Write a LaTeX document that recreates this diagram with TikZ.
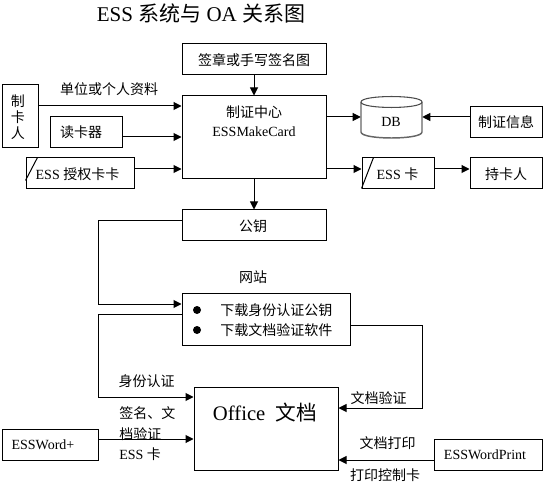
\documentclass[tikz,border=0pt]{standalone}
\usepackage{fontspec}
\setmainfont{Liberation Serif}
\newfontfamily\cjk{Noto Sans CJK SC}
\newcommand{\zh}[1]{{\cjk #1}}
\usetikzlibrary{arrows.meta, calc}
\tikzset{
  box/.style={draw, line width=0.75pt, minimum width=#1*0.75pt, minimum height=23.25pt, inner sep=0pt},
  lbl/.style={font=\fontsize{10.5}{12}\selectfont, inner sep=0pt},
  conn/.style={line width=0.75pt, -{Triangle[length=6pt,width=6pt]}}
}

\begin{document}
\begin{tikzpicture}[x=0.75pt, y=-0.75pt, font=\fontsize{10.5}{12}\selectfont]
  \useasboundingbox (0,0) rectangle (545,484);

  % Titulo
  \node[inner sep=0pt, font=\fontsize{15.75}{18}\selectfont] (title) at (201,13) {ESS \zh{系统与} OA \zh{关系图}};

  % Fila superior
  \node[box=144] (sign) at (254,59.5) {};
  \node[lbl] (signtxt) at (254,60) {\zh{签章或手写签名图}};
  \node[box=144, minimum height=62.25pt] (center) at (254,137.5) {};
  \node[lbl] (centertxt) at (254,112) {\zh{制证中心}};
  \node[lbl] (centereng) at (254,132) {ESSMakeCard};

  % Entradas
  \node[box=36, minimum height=47.25pt] (maker) at (20,116.5) {};
  \node[lbl, align=center, font=\fontsize{10.5}{12}\selectfont] (makertxt) at (18,117) {\zh{制}\\\zh{卡}\\\zh{人}};
  \node[box=72] (reader) at (86,132.5) {};
  \node[lbl] (readertxt) at (81,132) {\zh{读卡器}};
  \node[box=108] (authcard) at (80,173.5) {};
  \node[lbl] (authtxt) at (77.5,174) {ESS \zh{授权卡卡}};
  \node[lbl] (datatxt) at (109,89) {\zh{单位或个人资料}};

  % Salidas
  \node[minimum width=45.75pt, minimum height=31.5pt, inner sep=0pt] (db) at (391.5,117) {};
  \draw[line width=1.1pt, black!60] (361,102) -- (361,132) .. controls (361,140) and (422,140) .. (422,132) -- (422,102);
  \draw[line width=0.8pt, black!70] (361,102) .. controls (361,94.7) and (422,94.7) .. (422,102)
    .. controls (422,109.3) and (361,109.3) .. (361,102);
  \node[lbl] (dbtxt) at (391,122) {DB};
  \node[box=72] (info) at (506,122) {};
  \node[lbl] (infotxt) at (506,122) {\zh{制证信息}};
  \node[box=72] (card) at (398,173.5) {};
  \node[lbl] (cardtxt) at (397.5,174) {ESS \zh{卡}};
  \node[box=72] (holder) at (506,173.5) {};
  \node[lbl] (holdertxt) at (506,174) {\zh{持卡人}};

  % Marcas de tarjeta
  \draw[line width=0.75pt] ($(authcard.south west)+(0,-9)$) -- ($(authcard.north west)+(12,0)$);
  \draw[line width=0.75pt] ($(card.south west)+(0,-1)$) -- ($(card.north west)+(12,0)$);

  % Clave y sitio
  \node[box=144] (pubkey) at (254,225.5) {};
  \node[lbl] (pubkeytxt) at (253,226) {\zh{公钥}};
  \node[lbl] (sitetxt) at (253,277) {\zh{网站}};
  \node[box=168, minimum height=39pt] (site) at (266,319) {};
  \foreach \y/\lbl in {310/\zh{下载身份认证公钥}, 330/\zh{下载文档验证软件}} {
    \fill (197,\y) circle (3pt);
    \node[lbl, anchor=west] at (220,\y) {\lbl};
  }

  % Fila inferior
  \node[box=144, minimum height=62.25pt] (office) at (266,428.5) {};
  \node[inner sep=0pt, font=\fontsize{15.5}{18}\selectfont] (officetxt) at (265,413) {Office\ \ \zh{文档}};
  \node[box=96] (word) at (50,444.5) {};
  \node[lbl] (wordtxt) at (43,445) {ESSWord+};
  \node[box=108] (print) at (488,454.5) {};
  \node[lbl] (printtxt) at (485,455) {ESSWordPrint};

  % Etiquetas
  \node[lbl] (idtxt) at (146.5,381) {\zh{身份认证}};
  \node[lbl, anchor=west] (signdoc) at (119,413) {\zh{签名、文}};
  \node[lbl, anchor=west] (signdocb) at (119,434) {\zh{档验证}};
  \node[lbl, anchor=west] (wordcard) at (119,454) {ESS \zh{卡}};
  \node[lbl] (verifytxt) at (378.5,398) {\zh{文档验证}};
  \node[lbl] (printdoc) at (387.5,443) {\zh{文档打印}};
  \node[lbl] (printcard) at (385,475) {\zh{打印控制卡}};

  % Flechas
  \draw[conn] (sign) -- (center);
  \draw[conn] (maker.east |- 0,106) -- (center.west |- 0,106);
  \draw[conn] (reader.east |- 0,137) -- (center.west |- 0,137);
  \draw[conn] (authcard.east |- 0,169) -- (center.west |- 0,169);
  \draw[conn] (center) -- (pubkey);
  \draw[conn] (center.east |- 0,117) -- (db.west |- 0,117);
  \draw[conn] (info.west |- 0,117) -- (db.east |- 0,117);
  \draw[conn] (center.east |- 0,169) -- (card.west |- 0,169);
  \draw[conn] (card.east |- 0,169) -- (holder.west |- 0,169);
  \draw[conn] (pubkey.west |- 0,221) -- (98,221) |- (site.west |- 0,304);
  \draw[conn] (site.west |- 0,314) -- (98,314) |- (office.west |- 0,397);
  \draw[conn] (site.east |- 0,325) -- (422,325) |- (office.east |- 0,408);
  \draw[conn] (word.east |- 0,439) -- (office.west |- 0,439);
  \draw[conn] (print.west |- 0,460) -- (office.east |- 0,460);
\end{tikzpicture}
\end{document}
